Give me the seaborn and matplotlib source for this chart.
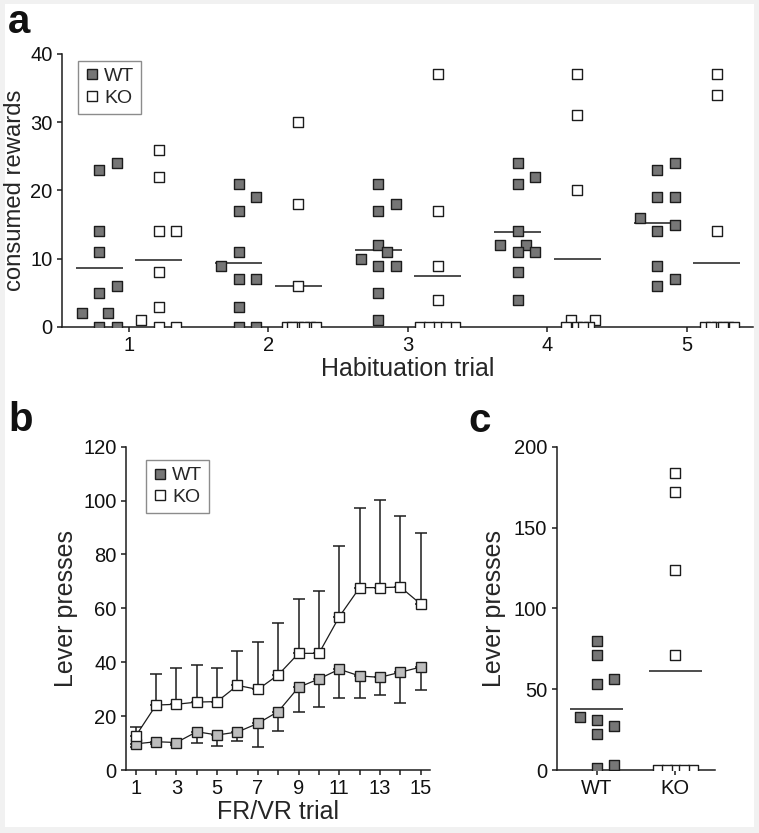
import numpy as np
import pandas as pd
import matplotlib
matplotlib.use("Agg")
import matplotlib.pyplot as plt
import seaborn as sns
from matplotlib.lines import Line2D
from matplotlib.patches import Rectangle

# ---------------- data ----------------
# panel a: consumed rewards per habituation trial (individual animals)
trials_a = [1, 2, 3, 4, 5]
wt_a_t1 = [23, 24, 14, 11, 6, 5, 2, 2, 0, 0]
wt_a_t2 = [21, 19, 17, 11, 9, 7, 7, 3, 0, 0]
wt_a_t3 = [21, 18, 17, 12, 11, 10, 9, 9, 5, 1]
wt_a_t4 = [24, 22, 21, 14, 12, 12, 11, 11, 8, 4]
wt_a_t5 = [24, 23, 19, 19, 16, 15, 14, 9, 7, 6]
ko_a_t1 = [26, 22, 14, 14, 8, 3, 1, 0, 0]
ko_a_t2 = [30, 18, 6, 0, 0, 0, 0, 0, 0]
ko_a_t3 = [37, 17, 9, 4, 0, 0, 0, 0, 0]
ko_a_t4 = [37, 31, 20, 1, 1, 0, 0, 0, 0]
ko_a_t5 = [37, 34, 14, 0, 0, 0, 0, 0, 0]
wt_a = [wt_a_t1, wt_a_t2, wt_a_t3, wt_a_t4, wt_a_t5]
ko_a = [ko_a_t1, ko_a_t2, ko_a_t3, ko_a_t4, ko_a_t5]

# panel b: lever presses per FR/VR trial (mean +/- SEM)
trials_b = list(range(1, 16))
wt_mean_b = [9.7, 10.5, 10.2, 14.2, 13.0, 14.1, 17.3, 21.7, 30.7, 33.8, 37.4, 34.9, 34.4, 36.3, 38.2]
wt_sem_b = [1.0, 1.0, 1.0, 4.0, 4.0, 3.2, 8.6, 7.1, 9.3, 10.3, 10.6, 8.3, 6.7, 11.5, 8.5]
ko_mean_b = [12.6, 24.1, 24.4, 25.2, 25.4, 31.4, 29.9, 35.3, 43.3, 43.3, 56.9, 67.7, 67.7, 67.9, 61.6]
ko_sem_b = [3.5, 11.5, 13.6, 13.8, 12.3, 12.9, 17.5, 19.1, 20.1, 23.1, 26.4, 29.7, 32.5, 26.4, 26.3]

# panel c: lever presses per animal
groups_c = ["WT", "KO"]
wt_c = [80, 71, 53, 56, 31, 33, 27, 22, 3, 1]
ko_c = [184, 172, 124, 71, 0, 0, 0, 0, 0]

# ---------------- style ----------------
W, H = 759, 833
EDGE = "#1c1c1c"
WT_DARK = "#767676"
WT_LIGHT = "#bdbdbd"
TICK_FS = 14.5
XLAB_FS = 18
YLAB_FS = 18
LEG_FS = 14
MS = 7.9          # marker side (pt)
SCAT_S = MS ** 2

sns.set_style("ticks")
plt.rcParams["font.family"] = ["Liberation Sans", "DejaVu Sans"]
plt.rcParams["axes.linewidth"] = 1.1
plt.rcParams["axes.edgecolor"] = EDGE

fig = plt.figure(figsize=(W / 100, H / 100), dpi=100)
fig.patch.set_facecolor("#f1f1f1")
fig.patches.append(Rectangle((5 / W, 1 - 827 / H), 749 / W, 823 / H,
                             transform=fig.transFigure, facecolor="white",
                             edgecolor="none", zorder=-10))


def swarm_offsets(values, h, d, wmax):
    """Simple beeswarm layout: slot index per point, then scaled to data units."""
    v = np.asarray(values, float)
    order = np.argsort(v, kind="stable")
    cands = [0, 1, -1, 0.5, -0.5, 1.5, -1.5, 2, -2, 2.5, -2.5, 3, -3]
    placed = []
    slots = np.zeros(len(v))
    for i in order:
        for k in cands:
            if all(not (abs(s - k) < 0.4 and abs(v[i] - yy) < h) for s, yy in placed):
                slots[i] = k
                placed.append((k, v[i]))
                break
    kmax = max(np.abs(slots).max(), 1.0)
    step = min(d, wmax / kmax)
    return slots * step


def style_axes(ax):
    sns.despine(ax=ax)
    ax.set_facecolor("none")
    ax.tick_params(which="both", direction="out", length=3.8, width=1.1,
                   color=EDGE, labelsize=TICK_FS, pad=3, labelcolor="#111111")


def square_handles():
    return [Line2D([], [], ls="none", marker="s", markersize=MS, markerfacecolor=WT_DARK,
                   markeredgecolor=EDGE, markeredgewidth=1.0),
            Line2D([], [], ls="none", marker="s", markersize=MS, markerfacecolor="white",
                   markeredgecolor=EDGE, markeredgewidth=1.0)]


def add_legend(ax, anchor):
    leg = ax.legend(square_handles(), ["WT", "KO"], loc="upper left", bbox_to_anchor=anchor,
                    frameon=True, fancybox=False, edgecolor="#8c8c8c", framealpha=1,
                    fontsize=LEG_FS, handlelength=0.7, handletextpad=0.3, borderpad=0.35,
                    labelspacing=0.2, borderaxespad=0)
    leg.get_frame().set_linewidth(1.0)


# ---------------- panel a ----------------
axa = fig.add_axes([62 / W, 1 - 327 / H, 691 / W, 273 / H])
for i, t in enumerate(trials_a):
    for vals, sign, fc in ((wt_a[i], -1, WT_DARK), (ko_a[i], 1, "white")):
        v = np.asarray(vals, float)
        cx = t + sign * 0.213
        off = swarm_offsets(v, h=2.05, d=0.124, wmax=0.125)
        sns.scatterplot(x=cx + off, y=v, marker="s", s=SCAT_S, color=fc, edgecolor=EDGE,
                        linewidth=1.0, ax=axa, zorder=3, legend=False)
        axa.hlines(v.mean(), cx - 0.168, cx + 0.168, color=EDGE, lw=1.1, zorder=2)
axa.set_xlim(0.52, 5.473)
axa.set_ylim(0, 40)
axa.set_xticks(trials_a)
axa.set_yticks(np.arange(0, 41, 10))
axa.set_xlabel("Habituation trial", fontsize=XLAB_FS, labelpad=1)
axa.set_ylabel("consumed rewards", fontsize=17.2, labelpad=3)
style_axes(axa)
add_legend(axa, (0.023, 0.975))

# ---------------- panel b ----------------
axb = fig.add_axes([126 / W, 1 - 770 / H, 304 / W, 323.3 / H])
axb.errorbar(trials_b, wt_mean_b, yerr=[wt_sem_b, np.zeros(len(trials_b))], fmt="none",
             ecolor=EDGE, elinewidth=1.1, capsize=4, capthick=1.1, zorder=2)
sns.lineplot(x=trials_b, y=wt_mean_b, color=EDGE, lw=0.9, marker="s", markersize=MS,
             markerfacecolor=WT_LIGHT, markeredgecolor=EDGE, markeredgewidth=1.0,
             errorbar=None, ax=axb, zorder=3)
axb.errorbar(trials_b, ko_mean_b, yerr=[np.zeros(len(trials_b)), ko_sem_b], fmt="none",
             ecolor=EDGE, elinewidth=1.1, capsize=4, capthick=1.1, zorder=4)
sns.lineplot(x=trials_b, y=ko_mean_b, color=EDGE, lw=0.9, marker="s", markersize=MS,
             markerfacecolor="white", markeredgecolor=EDGE, markeredgewidth=1.0,
             errorbar=None, ax=axb, zorder=5)
axb.set_xlim(0.524, 15.455)
axb.set_ylim(0, 120)
axb.set_xticks(range(1, 16, 2))
axb.set_xticks(range(2, 15, 2), minor=True)
axb.set_yticks(np.arange(0, 121, 20))
axb.set_xlabel("FR/VR trial", fontsize=XLAB_FS, labelpad=1)
axb.set_ylabel("Lever presses", fontsize=YLAB_FS, labelpad=4)
style_axes(axb)
add_legend(axb, (0.066, 0.959))

# ---------------- panel c ----------------
axc = fig.add_axes([556.7 / W, 1 - 770 / H, 158.3 / W, 323.3 / H])
for j, (vals, fc) in enumerate(((wt_c, WT_DARK), (ko_c, "white"))):
    v = np.asarray(vals, float)
    off = swarm_offsets(v, h=8.66, d=0.218, wmax=0.22)
    sns.scatterplot(x=j + off, y=v, marker="s", s=SCAT_S, color=fc, edgecolor=EDGE,
                    linewidth=1.0, ax=axc, zorder=3, legend=False)
    axc.hlines(v.mean(), j - 0.335, j + 0.335, color=EDGE, lw=1.1, zorder=2)
axc.set_xlim(-0.508, 1.503)
axc.set_ylim(0, 200)
axc.set_xticks([0, 1])
axc.set_xticklabels(groups_c)
axc.set_yticks(np.arange(0, 201, 50))
axc.set_ylabel("Lever presses", fontsize=YLAB_FS, labelpad=6)
style_axes(axc)

# ---------------- panel letters ----------------
for lab, x, y in (("a", 8, 33), ("b", 8, 431), ("c", 468, 432)):
    fig.text(x / W, 1 - y / H, lab, fontsize=29, fontweight="bold", va="baseline",
             ha="left", color="#111111")

fig.savefig("out.png", dpi=100, facecolor=fig.get_facecolor())
